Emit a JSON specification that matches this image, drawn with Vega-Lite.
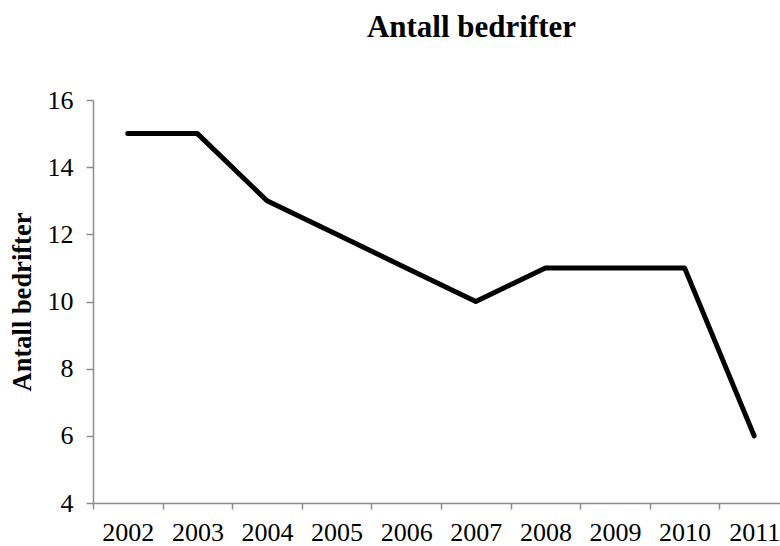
{
  "$schema": "https://vega.github.io/schema/vega-lite/v6.json",
  "autosize": {"type": "none"},
  "width": 687,
  "height": 403,
  "padding": {"left": 93, "top": 100, "right": 0, "bottom": 43},
  "background": "white",
  "title": {
    "text": "Antall bedrifter",
    "font": "Liberation Serif",
    "fontSize": 31,
    "fontWeight": "bold",
    "color": "black",
    "anchor": "middle",
    "frame": "group",
    "dx": 35,
    "baseline": "alphabetic",
    "offset": 19
  },
  "data": {
    "values": [
      {"year": 2002, "value": 15},
      {"year": 2003, "value": 15},
      {"year": 2004, "value": 13},
      {"year": 2005, "value": 12},
      {"year": 2006, "value": 11},
      {"year": 2007, "value": 10},
      {"year": 2008, "value": 11},
      {"year": 2009, "value": 11},
      {"year": 2010, "value": 11},
      {"year": 2011, "value": 6}
    ]
  },
  "mark": {"type": "line", "color": "black", "strokeWidth": 5, "strokeCap": "round", "strokeJoin": "round", "clip": true},
  "encoding": {
    "x": {
      "field": "year",
      "type": "quantitative",
      "scale": {"domain": [2001.5, 2011.371], "nice": false, "zero": false},
      "axis": {
        "title": null,
        "values": [2001.5, 2002, 2002.5, 2003, 2003.5, 2004, 2004.5, 2005, 2005.5, 2006, 2006.5, 2007, 2007.5, 2008, 2008.5, 2009, 2009.5, 2010, 2010.5, 2011],
        "labelExpr": "datum.value % 1 == 0 ? format(datum.value, 'd') : ''",
        "tickOpacity": {"condition": {"test": "datum.value % 1 == 0", "value": 0}, "value": 1},
        "labelFlush": false,
        "labelOverlap": false,
        "grid": false,
        "domainColor": "#8c8c8c",
        "domainWidth": 1.5,
        "tickColor": "#8c8c8c",
        "tickWidth": 1.5,
        "tickSize": 6,
        "labelFont": "Liberation Serif",
        "labelFontSize": 26,
        "labelColor": "black",
        "labelPadding": 10
      }
    },
    "y": {
      "field": "value",
      "type": "quantitative",
      "scale": {"domain": [4, 16], "nice": false, "zero": false},
      "axis": {
        "title": "Antall bedrifter",
        "titleFont": "Liberation Serif",
        "titleFontSize": 26.5,
        "titleFontWeight": "bold",
        "titleColor": "black",
        "titlePadding": 11,
        "values": [4, 6, 8, 10, 12, 14, 16],
        "grid": false,
        "domainColor": "#8c8c8c",
        "domainWidth": 1.5,
        "tickColor": "#8c8c8c",
        "tickWidth": 1.5,
        "tickSize": 7,
        "labelFont": "Liberation Serif",
        "labelFontSize": 26,
        "labelColor": "black",
        "labelPadding": 13
      }
    }
  },
  "config": {"view": {"stroke": null}}
}
